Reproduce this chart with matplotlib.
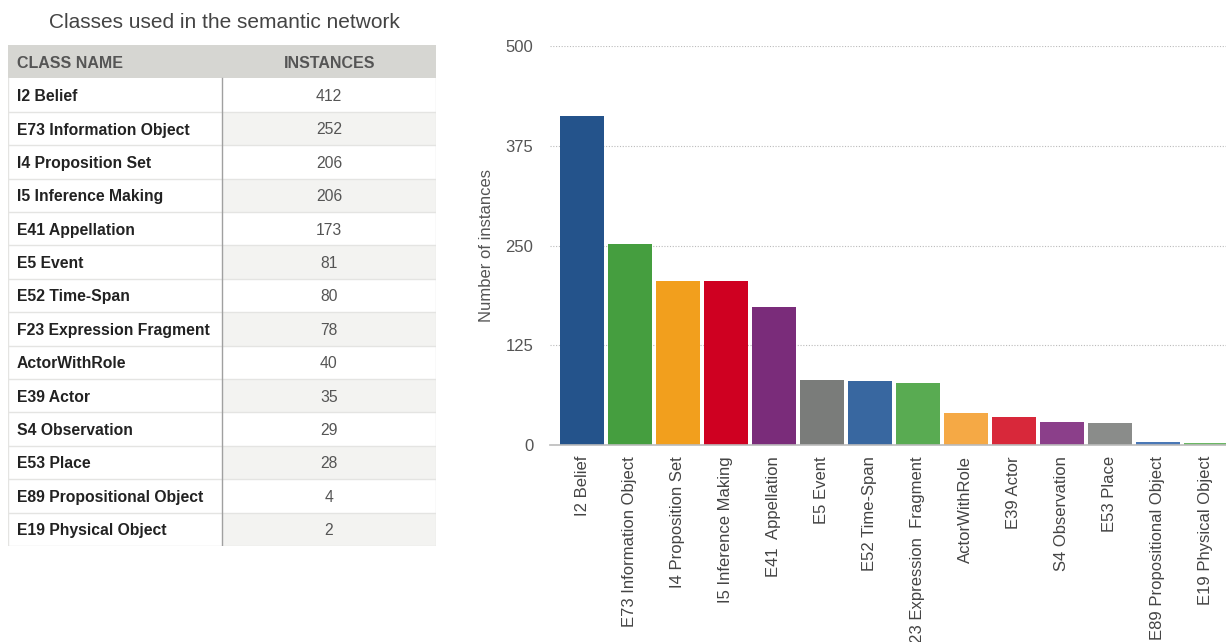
import matplotlib
matplotlib.use('Agg')
import matplotlib.pyplot as plt
from matplotlib.patches import Rectangle

plt.rcParams['font.family'] = ['Liberation Sans', 'DejaVu Sans']

# 数据
class_names = ['I2 Belief', 'E73 Information Object', 'I4 Proposition Set',
               'I5 Inference Making', 'E41 Appellation', 'E5 Event',
               'E52 Time-Span', 'F23 Expression Fragment', 'ActorWithRole',
               'E39 Actor', 'S4 Observation', 'E53 Place',
               'E89 Propositional Object', 'E19 Physical Object']
instances = [412, 252, 206, 206, 173, 81, 80, 78, 40, 35, 29, 28, 4, 2]
bar_labels = ['I2 Belief', 'E73 Information Object', 'I4 Proposition Set',
              'I5 Inference Making', 'E41  Appellation', 'E5 Event',
              'E52 Time-Span', 'F23 Expression  Fragment', 'ActorWithRole',
              'E39 Actor', 'S4 Observation', 'E53 Place',
              'E89 Propositional Object', 'E19 Physical Object']
bar_colors = ['#24538b', '#459e3f', '#f29f1d', '#cf0021', '#7a2c7a', '#7a7c7a',
              '#3867a0', '#59ab52', '#f5a945', '#d8283a', '#8b3f8a', '#8a8c8a',
              '#4a78b6', '#6bb864']
y_ticks = [0, 125, 250, 375, 500]

W, H = 1226, 642
fig = plt.figure(figsize=(W / 100, H / 100), dpi=100)

# ---------- 表格 ----------
tx0, tx1, ty0, ty1 = 8, 436, 45, 546
ax_t = fig.add_axes([tx0 / W, 1 - ty1 / H, (tx1 - tx0) / W, (ty1 - ty0) / H])
tw = tx1 - tx0
nrows = len(class_names) + 1
rh = (ty1 - ty0) / nrows
ax_t.set_xlim(0, tw)
ax_t.set_ylim(ty1 - ty0, 0)
ax_t.axis('off')
col_x = 214

# 表头
ax_t.add_patch(Rectangle((0, 0), tw, rh, facecolor='#d6d6d2', edgecolor='none'))
ax_t.text(9, rh / 2 + 1.5, 'CLASS NAME', ha='left', va='center', fontsize=11.5,
          fontweight='bold', color='#555555')
ax_t.text(322, rh / 2 + 1.5, 'INSTANCES', ha='center', va='center', fontsize=11.5,
          fontweight='bold', color='#555555')

for i, (name, n) in enumerate(zip(class_names, instances)):
    y = (i + 1) * rh
    ax_t.add_patch(Rectangle((0, y), col_x, rh, facecolor='white',
                             edgecolor='none'))
    ax_t.add_patch(Rectangle((col_x, y), tw - col_x, rh,
                             facecolor='#f3f3f1' if i % 2 else 'white',
                             edgecolor='none'))
    ax_t.plot([0, tw], [y + rh, y + rh], color='#e4e4e2', lw=1)
    ax_t.text(9, y + rh / 2 + 1.5, name, ha='left', va='center', fontsize=11.3,
              fontweight='bold', color='#222222')
    ax_t.text(321, y + rh / 2 + 1.5, str(n), ha='center', va='center',
              fontsize=11.3, color='#555555')
ax_t.plot([col_x, col_x], [rh, ty1 - ty0], color='#a0a0a0', lw=1)
ax_t.plot([0, 0], [rh, ty1 - ty0], color='#e4e4e2', lw=1)
ax_t.plot([tw, tw], [rh, ty1 - ty0], color='#e4e4e2', lw=1)

fig.text(224 / W, 1 - 23 / H, 'Classes used in the semantic network',
         ha='center', va='center', fontsize=15, color='#444444')

# ---------- 柱状图 ----------
ax = fig.add_axes([550 / W, 1 - 445 / H, 676 / W, 399 / H])
x = range(len(instances))
ax.bar(x, instances, width=0.91, color=bar_colors, edgecolor='none', zorder=3)
ax.set_xlim(-0.667, 13.42)
ax.set_ylim(0, 500)
ax.set_yticks(y_ticks)
ax.set_yticklabels([str(v) for v in y_ticks], fontsize=12, color='#555555')
ax.yaxis.grid(True, linestyle=(0, (1, 1.5)), color='#bbbbbb', lw=0.8, zorder=0)
ax.set_xticks(list(x))
ax.set_xticklabels(bar_labels, rotation=90, fontsize=12, color='#444444',
                   va='top', ha='center')
ax.tick_params(axis='y', length=0, pad=12)
ax.tick_params(axis='x', length=0, pad=8)
for s in ['top', 'right', 'left']:
    ax.spines[s].set_visible(False)
ax.spines['bottom'].set_color('#bbbbbb')
ax.spines['bottom'].set_linewidth(1.2)
ax.spines['bottom'].set_zorder(4)
ax.set_ylabel('Number of instances', fontsize=12, color='#555555', labelpad=8)

fig.savefig('out.png', dpi=100)
